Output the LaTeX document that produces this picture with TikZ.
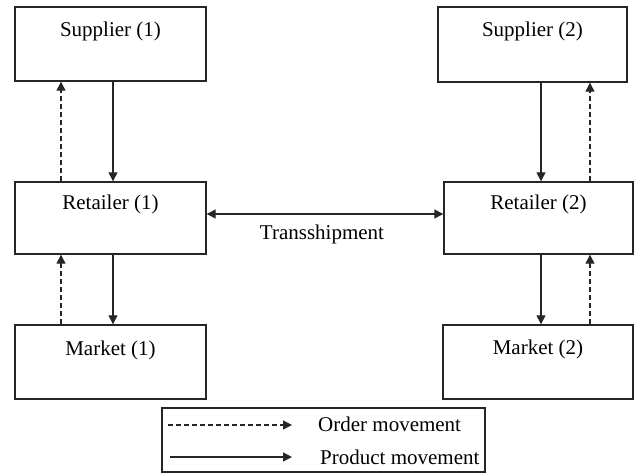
\documentclass[tikz,border=0pt]{standalone}
\usepackage{fontspec}
\setmainfont{Liberation Serif}
\usetikzlibrary{arrows.meta}
\begin{document}
\begin{tikzpicture}[x=1pt,y=-1pt,
  box/.style={draw=black!85,line width=1.4pt,rectangle,inner sep=0pt,
    minimum width=#1,text height=29pt,text depth=45pt,font=\fontsize{21}{24}\selectfont},
  prod/.style={draw=black!85,line width=1.3pt,-{Triangle[length=9pt,width=9pt]}},
  ord/.style={prod,dash pattern=on 5pt off 3pt},
  lbl/.style={font=\fontsize{21}{24}\selectfont,inner sep=0pt}]
\useasboundingbox (0,0) rectangle (635,475);
\node[box=191pt,minimum height=74pt] (s1) at (110.5,44) {Supplier (1)};
\node[box=191pt,minimum height=72pt,text height=27pt] (r1) at (110.5,218) {Retailer (1)};
\node[box=191pt,minimum height=74pt,text height=30pt,text depth=44pt] (m1) at (110.5,362) {Market (1)};
\node[box=189pt,minimum height=75pt] (s2) at (532.5,44.5) {Supplier (2)};
\node[box=189pt,minimum height=72pt,text height=27pt] (r2) at (538.5,218) {Retailer (2)};
\node[box=190pt,minimum height=74pt,text height=29pt,text depth=45pt] (m2) at (538,362) {Market (2)};
\coordinate (xp1) at (113,0);
\coordinate (xo1) at (61,0);
\coordinate (xp2) at (541,0);
\coordinate (xo2) at (590,0);
\draw[prod] (s1.south -| xp1) -- (r1.north -| xp1);
\draw[ord] (r1.north -| xo1) -- (s1.south -| xo1);
\draw[prod] (r1.south -| xp1) -- (m1.north -| xp1);
\draw[ord] (m1.north -| xo1) -- (r1.south -| xo1);
\draw[prod] (s2.south -| xp2) -- (r2.north -| xp2);
\draw[ord] (r2.north -| xo2) -- (s2.south -| xo2);
\draw[prod] (r2.south -| xp2) -- (m2.north -| xp2);
\draw[ord] (m2.north -| xo2) -- (r2.south -| xo2);
\draw[prod,{Triangle[length=9pt,width=9pt]}-{Triangle[length=9pt,width=9pt]}] ([yshift=4pt]r1.east) -- ([yshift=4pt]r2.west);
\node[lbl] (ts) at (322,234) {Transshipment};
\node[draw=black!85,line width=1.4pt,rectangle,inner sep=0pt,minimum width=323pt,minimum height=64pt] (lg) at (323.5,440) {};
\coordinate (oa) at (168,425);
\coordinate (ob) at (292,425);
\coordinate (pa) at (170,457);
\coordinate (pb) at (292,457);
\draw[ord] (oa) -- (ob);
\draw[prod] (pa) -- (pb);
\node[lbl,anchor=west] (ol) at (318,424) {Order movement};
\node[lbl,anchor=west] (pl) at (320,457) {Product movement};
\end{tikzpicture}
\end{document}
